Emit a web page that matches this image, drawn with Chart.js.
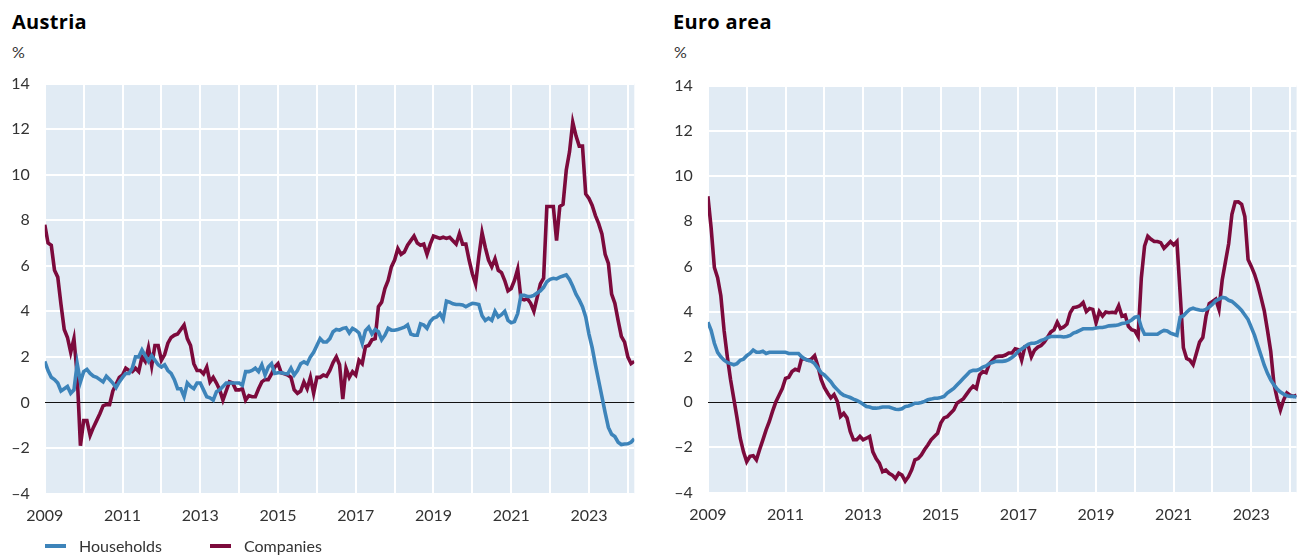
<!DOCTYPE html>
<html>
<head>
<meta charset="utf-8">
<script src="https://cdn.jsdelivr.net/npm/chart.js@4.4.1/dist/chart.umd.min.js"></script>
<style>
  html, body { margin: 0; padding: 0; background: #ffffff; }
  body { width: 1304px; height: 557px; position: relative; overflow: hidden; font-family: Lato, "Open Sans", sans-serif; color: #333; }
  .title { position: absolute; top: 8px; font-family: "Open Sans", sans-serif; font-weight: 700; font-size: 20px; color: #000; letter-spacing: 0.3px; }
  .unit { position: absolute; top: 42px; font-size: 16px; color: #333; }
  .cv { position: absolute; top: 0; }
  .legend { position: absolute; top: 536px; left: 45px; font-size: 16px; color: #333; display: flex; align-items: center; }
  .sw { display: inline-block; width: 21px; height: 4px; margin-right: 13px; }
  .item { display: flex; align-items: center; margin-right: 48px; }
  .item2 { display: flex; align-items: center; }
  .item2 .sw { margin-right: 13px; }
</style>
</head>
<body>
<div class="title" style="left:12px">Austria</div>
<div class="unit" style="left:12px">%</div>
<div class="title" style="left:673px">Euro area</div>
<div class="unit" style="left:674px">%</div>
<canvas id="c1" class="cv" style="left:0px"></canvas>
<canvas id="c2" class="cv" style="left:660px"></canvas>
<div class="legend">
  <div class="item"><span class="sw" style="background:#3D84BA"></span>Households</div>
  <div class="item2"><span class="sw" style="background:#7C0A3C"></span>Companies</div>
</div>
<script>
// ---- Data (monthly, Jan 2009 - Mar 2024), % ----
const startYear = 2009;
const seriesNames = ["Households", "Companies"];
const yTicks = [-4, -2, 0, 2, 4, 6, 8, 10, 12, 14];
const xTickYears = [2009, 2011, 2013, 2015, 2017, 2019, 2021, 2023];

const atHouseholds = [
  1.8, 1.4, 1.1, 1.0, 0.85, 0.5, 0.6, 0.7, 0.4, 0.55, 1.7, 0.9,
  1.35, 1.45, 1.27, 1.15, 1.1, 1.0, 0.9, 1.15, 1.0, 0.85, 0.65, 0.9,
  1.1, 1.27, 1.27, 1.5, 2.0, 2.0, 2.3, 2.05, 1.8, 2.05, 1.85, 1.65,
  1.55, 1.65, 1.4, 1.27, 1.0, 0.6, 0.6, 0.25, 0.85, 0.7, 0.6, 0.85,
  0.85, 0.55, 0.25, 0.2, 0.1, 0.47, 0.55, 0.7, 0.85, 0.85, 0.85, 0.85,
  0.85, 0.75, 1.35, 1.35, 1.4, 1.5, 1.35, 1.65, 1.2, 1.55, 1.7, 1.27,
  1.3, 1.3, 1.27, 1.25, 1.5, 1.2, 1.4, 1.7, 1.78, 1.7, 2.0, 2.2,
  2.5, 2.8, 2.65, 2.65, 2.8, 3.1,
  3.2, 3.17, 3.25, 3.28, 3.05, 3.25, 3.17, 3.05, 2.6, 3.15, 3.3, 3.0,
  3.2, 3.1, 2.75, 2.95, 3.25, 3.17, 3.17, 3.2, 3.25, 3.3, 3.4, 3.0,
  2.95, 2.95, 3.45, 3.4, 3.25, 3.55, 3.7, 3.75, 3.9, 3.65, 4.45, 4.4,
  4.33, 4.3, 4.3, 4.28, 4.2, 4.28, 4.35, 4.33, 4.3, 3.8, 3.6, 3.7,
  3.6, 4.0, 3.75, 3.85, 4.0, 3.6, 3.5, 3.55, 3.9, 4.7, 4.7, 4.65,
  4.65, 4.7, 4.8, 4.9, 5.05, 5.3, 5.4, 5.45, 5.42, 5.5, 5.55, 5.6,
  5.4, 5.1, 4.75, 4.5, 4.2, 3.75, 3.0, 2.4, 1.65, 0.95, 0.25, -0.45,
  -1.1, -1.4, -1.5, -1.75, -1.85, -1.83, -1.82, -1.75, -1.6
];
const atCompanies = [
  7.8, 7.0, 6.9, 5.8, 5.5, 4.3, 3.2, 2.85, 2.2, 2.8, 1.2, -1.9,
  -0.8, -0.8, -1.45, -1.1, -0.8, -0.5, -0.15, -0.1, -0.1, 0.5, 0.8, 1.1,
  1.2, 1.5, 1.4, 1.35, 1.5, 1.35, 2.0, 1.8, 2.4, 1.6, 2.5, 2.5,
  1.85, 2.1, 2.6, 2.85, 2.95, 3.0, 3.2, 3.4, 2.8, 2.5, 1.7, 1.4,
  1.4, 1.25, 1.55, 0.9, 1.1, 0.85, 0.55, 0.1, 0.5, 0.9, 0.85, 0.55,
  0.55, 0.6, 0.1, 0.3, 0.25, 0.25, 0.6, 0.9, 1.0, 1.0, 1.25, 1.55,
  1.7, 1.3, 1.25, 1.2, 1.1, 0.55, 0.4, 0.5, 0.9, 0.6, 1.1, 0.4,
  1.1, 1.1, 1.2, 1.15, 1.4, 1.75,
  2.0, 1.65, 0.15, 1.5, 1.1, 1.35, 1.2, 1.85, 1.7, 2.45, 2.5, 2.75,
  2.8, 4.2, 4.4, 5.0, 5.35, 5.95, 6.25, 6.75, 6.5, 6.6, 6.9, 7.1,
  7.3, 7.0, 6.9, 6.95, 6.5, 6.95, 7.3, 7.25, 7.2, 7.25, 7.2, 7.25,
  7.1, 6.95, 7.4, 6.95, 6.95, 6.25, 5.65, 5.2, 6.4, 7.45, 6.8, 6.25,
  5.95, 6.3, 5.8, 5.7, 5.35, 4.9, 5.0, 5.35, 5.85, 4.55, 4.5, 4.55,
  4.35, 4.0, 4.6, 5.2, 5.45, 8.6, 8.6, 8.6, 7.1, 8.6, 8.7, 10.2,
  11.0, 12.3, 11.7, 11.25, 11.25, 9.15, 8.95, 8.65, 8.2, 7.85, 7.4, 6.5,
  6.1, 4.75, 4.35, 3.6, 2.9, 2.65, 2.0, 1.7, 1.8
];
const eaHouseholds = [
  3.53, 3.17, 2.6, 2.2, 2.0, 1.85, 1.75, 1.7, 1.65, 1.7, 1.85, 1.9,
  2.05, 2.15, 2.3, 2.2, 2.2, 2.25, 2.15, 2.2, 2.2, 2.2, 2.2, 2.2,
  2.2, 2.15, 2.15, 2.15, 2.15, 2.0, 1.9, 1.85, 1.8, 1.7, 1.5, 1.3,
  1.2, 1.05, 0.9, 0.7, 0.55, 0.4, 0.3, 0.25, 0.2, 0.13, 0.07, 0.0,
  -0.1, -0.2, -0.22, -0.27, -0.27, -0.25, -0.22, -0.22, -0.22, -0.27, -0.32, -0.33,
  -0.3, -0.2, -0.17, -0.12, -0.05, -0.05, -0.02, 0.03, 0.1, 0.13, 0.17, 0.17,
  0.2, 0.25, 0.4, 0.5, 0.6, 0.75, 0.9, 1.05, 1.2, 1.35, 1.4, 1.4,
  1.45, 1.55, 1.6, 1.7, 1.75, 1.8,
  1.8, 1.8, 1.82, 1.88, 1.97, 2.08, 2.25, 2.35, 2.45, 2.55, 2.6, 2.6,
  2.65, 2.73, 2.77, 2.85, 2.9, 2.9, 2.9, 2.9, 2.88, 2.9, 2.95, 3.05,
  3.1, 3.17, 3.24, 3.24, 3.24, 3.24, 3.28, 3.3, 3.3, 3.33, 3.37, 3.38,
  3.39, 3.42, 3.47, 3.5, 3.55, 3.63, 3.75, 3.78, 3.3, 3.0, 3.0, 3.0,
  3.0, 3.0, 3.1, 3.17, 3.14, 3.05, 3.0, 2.95, 3.75, 3.82, 3.97, 4.1,
  4.15, 4.1, 4.07, 4.05, 4.1, 4.2, 4.33, 4.48, 4.55, 4.63, 4.6, 4.5,
  4.45, 4.33, 4.2, 4.05, 3.85, 3.65, 3.3, 2.95, 2.5, 2.07, 1.63, 1.27,
  0.98, 0.76, 0.57, 0.44, 0.35, 0.28, 0.25, 0.25, 0.22
];
const eaCompanies = [
  9.1, 7.7, 5.95, 5.5, 4.7, 3.17, 2.0, 1.0, 0.15, -0.7, -1.6, -2.2,
  -2.64, -2.4, -2.37, -2.56, -2.1, -1.67, -1.23, -0.86, -0.4, 0.0, 0.3, 0.6,
  1.05, 1.1, 1.35, 1.45, 1.4, 1.95, 1.9, 1.85, 1.9, 2.05, 1.6, 1.0,
  0.65, 0.4, 0.18, 0.33, 0.03, -0.64, -0.5, -0.7, -1.3, -1.67, -1.67, -1.52,
  -1.67, -1.6, -1.52, -2.2, -2.5, -2.7, -3.08, -3.0, -3.15, -3.23, -3.38, -3.15,
  -3.23, -3.5, -3.3, -3.0, -2.56, -2.5, -2.34, -2.1, -1.9, -1.67, -1.52, -1.38,
  -0.93, -0.7, -0.65, -0.5, -0.35, -0.05, 0.05, 0.15, 0.35, 0.55, 0.7, 0.6,
  1.2, 1.35, 1.3, 1.7, 1.85, 2.0,
  2.03, 2.03, 2.08, 2.17, 2.17, 2.36, 2.32, 1.85, 2.45, 2.5, 2.0, 2.3,
  2.43, 2.5, 2.65, 2.87, 3.1, 3.2, 3.53, 3.25, 3.32, 3.45, 3.95, 4.18,
  4.2, 4.26, 4.4, 4.0, 4.14, 4.1, 3.5, 4.0, 3.8, 3.98, 3.95, 3.97,
  3.95, 4.26, 3.8, 3.85, 3.35, 3.2, 3.15, 2.9, 5.5, 6.9, 7.33, 7.2,
  7.1, 7.1, 7.05, 6.8, 6.95, 7.1, 6.95, 7.1, 4.8, 2.4, 1.93, 1.85,
  1.65, 2.15, 2.65, 2.85, 3.8, 4.35, 4.45, 4.55, 4.1, 5.4, 6.2, 7.0,
  8.3, 8.85, 8.86, 8.75, 8.2, 6.3, 6.0, 5.65, 5.2, 4.63, 4.04, 3.17,
  2.25, 0.8, 0.15, -0.35, 0.1, 0.4, 0.3, 0.25, 0.3
];

const BLUE = '#3D84BA';
const RED = '#7C0A3C';
const BG = '#E1EBF4';

function toPoints(arr) {
  return arr.map((v, i) => ({ x: startYear + i / 12, y: v }));
}

const bgPlugin = {
  id: 'plotBg',
  beforeDraw(chart) {
    const a = chart.chartArea, ctx = chart.ctx;
    ctx.save();
    ctx.fillStyle = BG;
    ctx.fillRect(a.left, a.top, a.right - a.left, a.bottom - a.top);
    ctx.restore();
  }
};

function makeChart(id, canvasW, hh, co, geom) {
  const cv = document.getElementById(id);
  cv.width = canvasW; cv.height = 557;
  cv.style.width = canvasW + 'px'; cv.style.height = '557px';
  const lastX = startYear + (hh.length - 1) / 12;
  return new Chart(cv, {
    type: 'line',
    data: {
      datasets: [
        { label: seriesNames[0], data: toPoints(hh), borderColor: BLUE, borderWidth: 3.6, pointRadius: 0, tension: 0, order: 1 },
        { label: seriesNames[1], data: toPoints(co), borderColor: RED, borderWidth: 3.6, pointRadius: 0, tension: 0, order: 2 }
      ]
    },
    options: {
      responsive: false,
      animation: false,
      devicePixelRatio: 1,
      layout: { padding: { top: geom.top, right: geom.right, left: 0, bottom: 0 } },
      plugins: { legend: { display: false }, tooltip: { enabled: false } },
      scales: {
        x: {
          type: 'linear', min: startYear, max: lastX,
          border: { display: false },
          grid: { color: '#ffffff', lineWidth: 2, drawTicks: false },
          afterFit(s) { s.height = geom.xh; },
          afterBuildTicks(s) {
            const t = [];
            for (let y = startYear; y <= Math.floor(lastX); y++) t.push({ value: y });
            s.ticks = t;
          },
          ticks: {
            autoSkip: false, maxRotation: 0, padding: 13, color: '#333',
            font: { family: 'Lato', size: 16 },
            callback: (v) => xTickYears.includes(v) ? String(v) : ''
          }
        },
        y: {
          min: yTicks[0], max: yTicks[yTicks.length - 1],
          border: { display: false },
          afterFit(s) { s.width = geom.yw; },
          afterBuildTicks(s) { s.ticks = yTicks.map(v => ({ value: v })); },
          grid: {
            drawTicks: false,
            color: (c) => c.tick && c.tick.value === 0 ? '#111111' : '#ffffff',
            lineWidth: (c) => c.tick && c.tick.value === 0 ? 1 : 2
          },
          ticks: {
            padding: 15, color: '#333',
            font: { family: 'Lato', size: 16 },
            callback: (v) => v < 0 ? '\u2013' + Math.abs(v) : String(v)
          }
        }
      }
    },
    plugins: [bgPlugin]
  });
}

makeChart('c1', 660, atHouseholds, atCompanies, { top: 83.5, right: 660 - 634.3, yw: 44.8, xh: 557 - 493.5 });
makeChart('c2', 644, eaHouseholds, eaCompanies, { top: 85.5, right: 644 - 636.6, yw: 47.9, xh: 557 - 492.5 });
</script>
</body>
</html>
